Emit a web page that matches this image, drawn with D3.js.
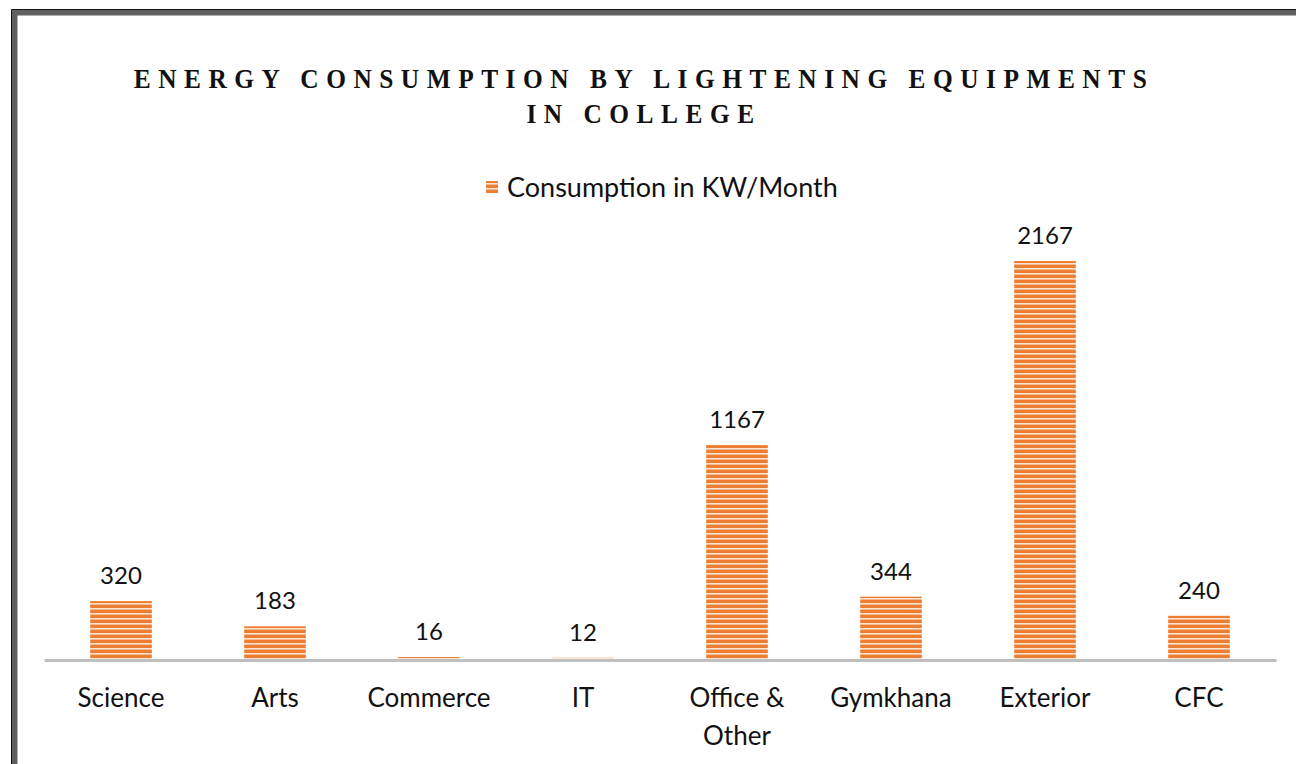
<!DOCTYPE html>
<html>
<head>
<meta charset="utf-8">
<script src="https://cdn.jsdelivr.net/npm/d3@7"></script>
<style>
  body { margin: 0; background: #fff; }
  svg { display: block; }
</style>
</head>
<body>
<div id="chart"></div>
<script>
const categories = ["Science", "Arts", "Commerce", "IT", "Office & Other", "Gymkhana", "Exterior", "CFC"];
const values = [320, 183, 16, 12, 1167, 344, 2167, 240];
const seriesName = "Consumption in KW/Month";
const titleLines = ["ENERGY CONSUMPTION BY LIGHTENING EQUIPMENTS", "IN COLLEGE"];

const width = 1296, height = 764;
const margin = {top: 261, right: 20, bottom: 104, left: 44};
const baseY = height - margin.bottom; // 660

const svg = d3.select("#chart").append("svg")
  .attr("width", width)
  .attr("height", height);

// stripe pattern for bars
const defs = svg.append("defs");
const pat = defs.append("pattern")
  .attr("id", "stripes")
  .attr("patternUnits", "userSpaceOnUse")
  .attr("width", 10).attr("height", 5);
pat.append("rect").attr("width", 10).attr("height", 5).attr("fill", "#ed7d31");
pat.append("rect").attr("y", 3).attr("width", 10).attr("height", 1.6).attr("fill", "#fbe3d2");

// outer frame
svg.append("rect")
  .attr("x", 14.5).attr("y", 12.5)
  .attr("width", width).attr("height", height)
  .attr("fill", "none").attr("stroke", "#606060").attr("stroke-width", 6);
svg.append("path")
  .attr("d", `M11.5,${height} V9.5 H${width}`)
  .attr("fill", "none").attr("stroke", "#111").attr("stroke-width", 1);

// title - bold serif, spaced out
svg.append("g")
  .attr("transform", "translate(644,0) scale(0.94,1)")
  .selectAll("text")
  .data(titleLines)
  .join("text")
  .attr("x", 0)
  .attr("y", (d, i) => 88 + i * 35)
  .attr("text-anchor", "middle")
  .attr("font-family", "Liberation Serif, Times New Roman, serif")
  .attr("font-weight", "bold")
  .attr("font-size", 27)
  .attr("letter-spacing", 8)
  .attr("fill", "#111")
  .text(d => d);

// legend
svg.append("rect")
  .attr("x", 486).attr("y", 181).attr("width", 12).attr("height", 12)
  .attr("fill", "url(#stripes)");
svg.append("text")
  .attr("x", 507).attr("y", 197)
  .attr("font-family", "Lato, sans-serif")
  .attr("font-size", 27)
  .attr("fill", "#111")
  .text(seriesName);

const x = d3.scaleBand()
  .domain(categories)
  .range([margin.left, margin.left + 8 * 154])
  .paddingInner(0.6)
  .paddingOuter(0.3);

const y = d3.scaleLinear()
  .domain([0, 2167])
  .range([baseY, margin.top]);

// bars
svg.append("g").selectAll("rect")
  .data(values)
  .join("rect")
  .attr("x", (d, i) => x(categories[i]))
  .attr("y", d => y(d))
  .attr("width", x.bandwidth())
  .attr("height", d => baseY - y(d))
  .attr("fill", "url(#stripes)");

// value labels
svg.append("g").selectAll("text")
  .data(values)
  .join("text")
  .attr("x", (d, i) => x(categories[i]) + x.bandwidth() / 2)
  .attr("y", d => y(d) - 17)
  .attr("text-anchor", "middle")
  .attr("font-family", "Lato, sans-serif")
  .attr("font-size", 24)
  .attr("fill", "#111")
  .text(d => d);

// x axis
const xAxis = svg.append("g")
  .attr("transform", `translate(0,${baseY})`)
  .call(d3.axisBottom(x).tickSize(0).tickFormat(""));
xAxis.select(".domain").attr("stroke", "#bfbfbf").attr("stroke-width", 3);

// category labels (wrapped)
const wrap = {"Office & Other": ["Office &", "Other"]};
const cat = svg.append("g").selectAll("text")
  .data(categories)
  .join("text")
  .attr("text-anchor", "middle")
  .attr("font-family", "Lato, sans-serif")
  .attr("font-size", 26)
  .attr("fill", "#111");
cat.each(function(d) {
  const lines = wrap[d] || [d];
  d3.select(this).selectAll("tspan")
    .data(lines)
    .join("tspan")
    .attr("x", x(d) + x.bandwidth() / 2)
    .attr("y", (l, i) => 707 + i * 38)
    .text(l => l);
});
</script>
</body>
</html>
